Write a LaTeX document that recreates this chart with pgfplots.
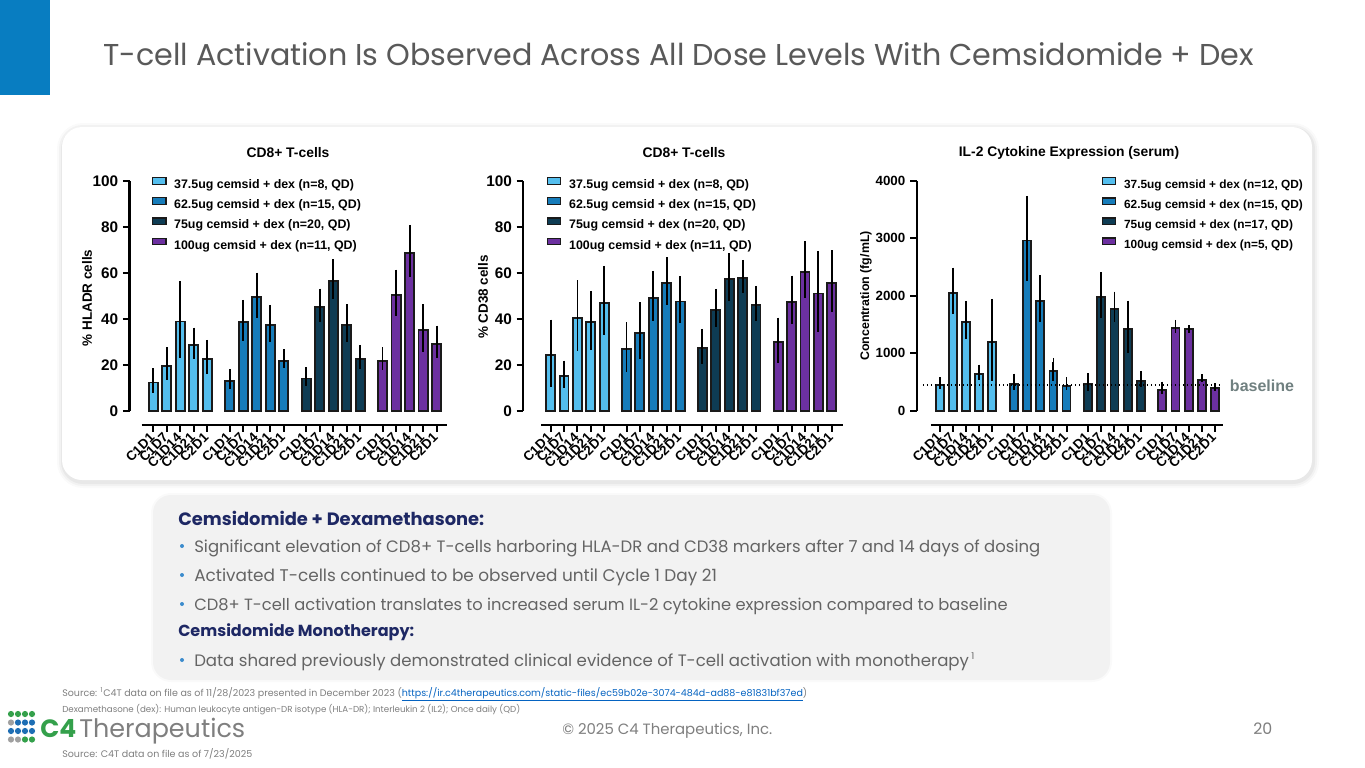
\documentclass[border=0pt]{standalone}
\usepackage{fontspec}
\setmainfont{Liberation Sans}
\newfontfamily\gothic{Poppins}
\usepackage{graphicx}
\usepackage{pgfplots}
\pgfplotsset{compat=1.18}

\definecolor{c375}{RGB}{84,190,238}
\definecolor{c625}{RGB}{22,124,186}
\definecolor{c75}{RGB}{14,60,84}
\definecolor{c100}{RGB}{108,48,160}
\definecolor{barline}{RGB}{26,26,26}
\definecolor{slideblue}{RGB}{8,125,193}
\definecolor{titlegray}{RGB}{89,89,89}
\definecolor{textgray}{RGB}{100,100,100}
\definecolor{footgray}{RGB}{127,127,127}
\definecolor{navy}{RGB}{30,40,100}
\definecolor{boxgray}{RGB}{242,242,242}
\definecolor{basegray}{RGB}{112,128,128}
\definecolor{linkblue}{RGB}{5,99,193}
\definecolor{bulletblue}{RGB}{60,140,205}
\definecolor{c4green}{RGB}{52,160,75}
\definecolor{c4blue}{RGB}{30,110,180}
\definecolor{c4gray}{RGB}{160,160,160}

\pgfplotsset{
  swatch/.style={legend image code/.code={%
    \draw[fill=#1,draw=barline,line width=0.9pt] (0pt,0.6pt) rectangle (10pt,5.6pt);}},
  bars/.style={fill=#1, draw=barline, line width=1.4pt, swatch=#1,
    error bars/.cd, y dir=plus, y explicit, error mark=-,
    error bar style={line width=1.4pt, draw=black},
    error mark options={line width=1.4pt, mark size=3pt, draw=black}},
  lowbars/.style={draw=none, fill=none, forget plot,
    error bars/.cd, y dir=minus, y explicit, error mark=none,
    error bar style={line width=1.4pt, draw=black}},
  cellbars/.style={
    scale only axis, height=183.2pt, anchor=south west,
    ybar, bar shift=0pt, bar width=0.67,
    clip=false, axis x line*=bottom, axis y line*=left,
    axis line style={draw=none},
    tick align=outside, major tick length=5pt,
    tick style={black, line width=1.5pt},
    xtick={0,1,2,3,4,5.66,6.66,7.66,8.66,9.66,11.32,12.32,13.32,14.32,15.32,16.98,17.98,18.98,19.98,20.98},
    xticklabels={C1D1,C1D7,C1D14,C1D21,C2D1,C1D1,C1D7,C1D14,C1D21,C2D1,C1D1,C1D7,C1D14,C1D21,C2D1,C1D1,C1D7,C1D14,C1D21,C2D1},
    xticklabel style={rotate=45, anchor=east, inner sep=1pt, font=\bfseries\fontsize{10}{10}\selectfont},
    xticklabel shift=2pt,
    yticklabel style={font=\bfseries\fontsize{11.5}{12}\selectfont},
    /pgf/number format/assume math mode=true,
    /pgf/number format/1000 sep={},
    scaled y ticks=false,
    legend cell align=left,
    legend style={draw=none, fill=none, inner sep=0pt, anchor=west, row sep=5pt,
      font=\bfseries\fontsize{9.3}{10}\selectfont, nodes={inner sep=0pt},
      /tikz/every odd column/.append style={column sep=5.75pt}},
  },
}

\begin{document}
\begin{tikzpicture}
\useasboundingbox (0,0) rectangle (1023.75pt,-576pt);
\fill[white] (0,0) rectangle (1023.75pt,-576pt);

\begin{scope}[x=0.75pt, y=-0.75pt]
  % header
  \fill[slideblue] (0,0) rectangle (50,95);
  \node[anchor=base west, inner sep=0pt, text=titlegray] at (103,65)
    {\resizebox{863pt}{!}{\gothic T-cell Activation Is Observed Across All Dose Levels With Cemsidomide + Dex}};

  % chart panel
  \foreach \w/\o in {9/0.02,6/0.03,3/0.04}
    \draw[black, opacity=\o, line width=\w pt, rounded corners=15] (63,129) rectangle (1313,482);
  \fill[white, rounded corners=15] (62,127) rectangle (1312,480);

  % chart titles and y labels
  \node[font=\bfseries\fontsize{10.4}{12}\selectfont] at (288,153) {CD8+ T-cells};
  \node[font=\bfseries\fontsize{10.4}{12}\selectfont] at (684,153) {CD8+ T-cells};
  \node[font=\bfseries\fontsize{10.4}{12}\selectfont] at (1069,153) {IL-2 Cytokine Expression (serum)};
  \node[rotate=90, font=\bfseries\fontsize{10.1}{12}\selectfont] at (87,298) {\% HLADR cells};
  \node[rotate=90, font=\bfseries\fontsize{10.1}{12}\selectfont] at (483,297) {\% CD38 cells};
  \node[rotate=90, font=\bfseries\fontsize{9.3}{12}\selectfont] at (866,296) {Concentration (fg/mL)};
  \node[text=basegray, font=\bfseries\fontsize{12}{14}\selectfont] at (1262,386) {baseline};

  % text box
  \foreach \w/\o in {6/0.02,3/0.03}
    \draw[black, opacity=\o, line width=\w pt, rounded corners=12] (155,497) rectangle (1108,678);
  \fill[boxgray, rounded corners=12] (155,496) rectangle (1108,677);
  \node[anchor=base west, inner sep=0pt, text=navy] at (178,525)
    {\resizebox{229.5pt}{!}{\gothic\bfseries Cemsidomide + Dexamethasone:}};
  \node[anchor=base west, inner sep=0pt, text=textgray] at (194,552)
    {\resizebox{634.5pt}{!}{\gothic Significant elevation of CD8+ T-cells harboring HLA-DR and CD38 markers after 7 and 14 days of dosing}};
  \node[anchor=base west, inner sep=0pt, text=textgray] at (194,581)
    {\resizebox{392pt}{!}{\gothic Activated T-cells continued to be observed until Cycle 1 Day 21}};
  \node[anchor=base west, inner sep=0pt, text=textgray] at (194,610)
    {\resizebox{610pt}{!}{\gothic CD8+ T-cell activation translates to increased serum IL-2 cytokine expression compared to baseline}};
  \node[anchor=base west, inner sep=0pt, text=navy] at (178,636)
    {\resizebox{177pt}{!}{\gothic\bfseries Cemsidomide Monotherapy:}};
  \node[anchor=base west, inner sep=0pt, text=textgray] at (194,666)
    {\resizebox{581pt}{!}{\gothic Data shared previously demonstrated clinical evidence of T-cell activation with monotherapy}};
  \node[anchor=base west, inner sep=0pt, text=textgray, font=\gothic\fontsize{7}{8}\selectfont] at (971,659) {1};
  \foreach \yy in {546,575,604,660}
    \fill[bulletblue] (182,\yy) circle (2);

  % footer
  \node[anchor=base west, inner sep=0pt, text=footgray] at (62,696)
    {\resizebox{558.75pt}{!}{\gothic Source: \textsuperscript{1}C4T data on file as of 11/28/2023 presented in December 2023 (\textcolor{linkblue}{\underline{https://ir.c4therapeutics.com/static-files/ec59b02e-3074-484d-ad88-e81831bf37ed}})}};
  \node[anchor=base west, inner sep=0pt, text=footgray] at (62,712)
    {\resizebox{343.5pt}{!}{\gothic Dexamethasone (dex): Human leukocyte antigen-DR isotype (HLA-DR); Interleukin 2 (IL2); Once daily (QD)}};
  \node[anchor=base west, inner sep=0pt, text=footgray] at (62,757)
    {\resizebox{142.5pt}{!}{\gothic Source: C4T data on file as of 7/23/2025}};
  \node[anchor=base west, inner sep=0pt, text=footgray] at (562,734)
    {\resizebox{157.5pt}{!}{\gothic \textcopyright{} 2025 C4 Therapeutics, Inc.}};
  \node[anchor=base west, inner sep=0pt, text=footgray] at (1253,734)
    {\resizebox{14.25pt}{!}{\gothic 20}};

  % logo
  \foreach \cx/\cy/\cc in {11/714/c4green,18/714/c4green,25/714/c4green,32/714/c4green,
      11/722.5/c4gray,18/722.5/c4blue,25/722.5/c4blue,32/722.5/c4blue,
      11/731/c4blue,18/731/c4blue,25/731/c4blue,32/731/c4blue,
      11/739.5/c4gray,18/739.5/c4gray,25/739.5/c4green,32/739.5/c4green}
    \fill[\cc] (\cx,\cy) circle (3.1);
  \node[anchor=base west, inner sep=0pt, text=c4green] at (40,737)
    {\resizebox{27pt}{!}{\gothic\bfseries C4}};
  \node[anchor=base west, inner sep=0pt, text=footgray] at (79,737)
    {\resizebox{124.5pt}{!}{\gothic Therapeutics}};
\end{scope}

% ---------- chart 1: % HLADR cells
\begin{axis}[cellbars, at={(97.125pt,-318.75pt)}, width=237.9pt,
  xmin=-1.76, xmax=21.73, ymin=-6.2, ymax=100, ytick={0,20,40,60,80,100},
  legend style={at={(0.07,0.8637)}}]
\addplot[bars=c375] table[x=x,y=y,y error=e,row sep=\\]{x y e\\ 0 12.3 4.5\\ 1 19.5 6.3\\ 2 38.8 15.8\\ 3 28.4 6.0\\ 4 22.6 6.5\\};
\addlegendentry{37.5ug cemsid + dex (n=8, QD)}
\addplot[lowbars] table[x=x,y=y,y error=e,row sep=\\]{x y e\\ 0 12.3 4.5\\ 1 19.5 6.3\\ 2 38.8 15.8\\ 3 28.4 6.0\\ 4 22.6 6.5\\};
\addplot[bars=c625] table[x=x,y=y,y error=e,row sep=\\]{x y e\\ 5.66 12.9 3.3\\ 6.66 38.4 8.1\\ 7.66 49.3 9.0\\ 8.66 37.1 7.2\\ 9.66 21.8 3.1\\};
\addlegendentry{62.5ug cemsid + dex (n=15, QD)}
\addplot[lowbars] table[x=x,y=y,y error=e,row sep=\\]{x y e\\ 5.66 12.9 3.3\\ 6.66 38.4 8.1\\ 7.66 49.3 9.0\\ 8.66 37.1 7.2\\ 9.66 21.8 3.1\\};
\addplot[bars=c75] table[x=x,y=y,y error=e,row sep=\\]{x y e\\ 11.32 14.0 3.1\\ 12.32 45.0 6.4\\ 13.32 56.4 7.7\\ 14.32 37.3 7.3\\ 15.32 22.6 4.3\\};
\addlegendentry{75ug cemsid + dex (n=20, QD)}
\addplot[lowbars] table[x=x,y=y,y error=e,row sep=\\]{x y e\\ 11.32 14.0 3.1\\ 12.32 45.0 6.4\\ 13.32 56.4 7.7\\ 14.32 37.3 7.3\\ 15.32 22.6 4.3\\};
\addplot[bars=c100] table[x=x,y=y,y error=e,row sep=\\]{x y e\\ 16.98 21.8 4.1\\ 17.98 50.3 9.3\\ 18.98 68.7 10.4\\ 19.98 35.1 9.4\\ 20.98 29.2 6.1\\};
\addlegendentry{100ug cemsid + dex (n=11, QD)}
\addplot[lowbars] table[x=x,y=y,y error=e,row sep=\\]{x y e\\ 16.98 21.8 4.1\\ 17.98 50.3 9.3\\ 18.98 68.7 10.4\\ 19.98 35.1 9.4\\ 20.98 29.2 6.1\\};
\draw[line width=1.6pt] (axis cs:-1.76,0) -- (axis cs:-1.76,100);
\draw[line width=1.6pt] (axis cs:-0.86,-6.2) -- (axis cs:21.73,-6.2);
\end{axis}

% ---------- chart 2: % CD38 cells
\begin{axis}[cellbars, at={(392.5pt,-318.75pt)}, width=240pt,
  xmin=-2.04, xmax=21.84, ymin=-6.2, ymax=100, ytick={0,20,40,60,80,100},
  legend style={at={(0.073,0.8637)}}]
\addplot[bars=c375] table[x=x,y=y,y error=e,row sep=\\]{x y e\\ 0 24.2 13.7\\ 1 15.0 5.0\\ 2 40.4 14.5\\ 3 38.4 12.0\\ 4 47.0 14.2\\};
\addlegendentry{37.5ug cemsid + dex (n=8, QD)}
\addplot[lowbars] table[x=x,y=y,y error=e,row sep=\\]{x y e\\ 0 24.2 13.7\\ 1 15.0 5.0\\ 2 40.4 14.5\\ 3 38.4 12.0\\ 4 47.0 14.2\\};
\addplot[bars=c625] table[x=x,y=y,y error=e,row sep=\\]{x y e\\ 5.66 26.8 10.0\\ 6.66 33.9 11.6\\ 7.66 49.0 10.1\\ 8.66 55.5 9.4\\ 9.66 47.5 9.2\\};
\addlegendentry{62.5ug cemsid + dex (n=15, QD)}
\addplot[lowbars] table[x=x,y=y,y error=e,row sep=\\]{x y e\\ 5.66 26.8 10.0\\ 6.66 33.9 11.6\\ 7.66 49.0 10.1\\ 8.66 55.5 9.4\\ 9.66 47.5 9.2\\};
\addplot[bars=c75] table[x=x,y=y,y error=e,row sep=\\]{x y e\\ 11.32 27.2 6.7\\ 12.32 43.8 7.5\\ 13.32 57.3 9.4\\ 14.32 57.6 6.3\\ 15.32 45.8 6.7\\};
\addlegendentry{75ug cemsid + dex (n=20, QD)}
\addplot[lowbars] table[x=x,y=y,y error=e,row sep=\\]{x y e\\ 11.32 27.2 6.7\\ 12.32 43.8 7.5\\ 13.32 57.3 9.4\\ 14.32 57.6 6.3\\ 15.32 45.8 6.7\\};
\addplot[bars=c100] table[x=x,y=y,y error=e,row sep=\\]{x y e\\ 16.98 29.8 8.9\\ 17.98 47.4 9.6\\ 18.98 60.4 11.5\\ 19.98 51.0 16.8\\ 20.98 55.4 12.6\\};
\addlegendentry{100ug cemsid + dex (n=11, QD)}
\addplot[lowbars] table[x=x,y=y,y error=e,row sep=\\]{x y e\\ 16.98 29.8 8.9\\ 17.98 47.4 9.6\\ 18.98 60.4 11.5\\ 19.98 51.0 16.8\\ 20.98 55.4 12.6\\};
\draw[line width=1.6pt] (axis cs:-2.04,0) -- (axis cs:-2.04,100);
\draw[line width=1.6pt] (axis cs:-0.72,-6.2) -- (axis cs:21.84,-6.2);
\end{axis}

% ---------- chart 3: IL-2 concentration
\begin{axis}[cellbars, at={(687.5pt,-318.75pt)}, width=229.5pt, bar width=0.61,
  xmin=-1.78, xmax=21.58, ymin=-249, ymax=4000, ytick={0,1000,2000,3000,4000},
  yticklabel style={font=\bfseries\fontsize{10}{11}\selectfont},
  legend style={at={(0.6046,0.8637)}, font=\bfseries\fontsize{8.9}{10}\selectfont}]
\addplot[bars=c375] table[x=x,y=y,y error=e,row sep=\\]{x y e\\ 0 440 70\\ 1 2050 370\\ 2 1540 300\\ 3 635 95\\ 4 1195 680\\};
\addlegendentry{37.5ug cemsid + dex (n=12, QD)}
\addplot[lowbars] table[x=x,y=y,y error=e,row sep=\\]{x y e\\ 0 440 70\\ 1 2050 370\\ 2 1540 300\\ 3 635 95\\ 4 1195 680\\};
\addplot[bars=c625] table[x=x,y=y,y error=e,row sep=\\]{x y e\\ 5.66 470 105\\ 6.66 2960 705\\ 7.66 1915 375\\ 8.66 685 165\\ 9.66 435 80\\};
\addlegendentry{62.5ug cemsid + dex (n=15, QD)}
\addplot[lowbars] table[x=x,y=y,y error=e,row sep=\\]{x y e\\ 5.66 470 105\\ 6.66 2960 705\\ 7.66 1915 375\\ 8.66 685 165\\ 9.66 435 80\\};
\addplot[bars=c75] table[x=x,y=y,y error=e,row sep=\\]{x y e\\ 11.32 465 115\\ 12.32 1980 360\\ 13.32 1775 225\\ 14.32 1420 425\\ 15.32 520 105\\};
\addlegendentry{75ug cemsid + dex (n=17, QD)}
\addplot[lowbars] table[x=x,y=y,y error=e,row sep=\\]{x y e\\ 11.32 465 115\\ 12.32 1980 360\\ 13.32 1775 225\\ 14.32 1420 425\\ 15.32 520 105\\};
\addplot[bars=c100] table[x=x,y=y,y error=e,row sep=\\]{x y e\\ 16.98 365 70\\ 17.98 1435 75\\ 18.98 1420 0\\ 19.98 540 28\\ 20.98 390 22\\};
\addlegendentry{100ug cemsid + dex (n=5, QD)}
\addplot[lowbars] table[x=x,y=y,y error=e,row sep=\\]{x y e\\ 16.98 365 70\\ 17.98 1435 75\\ 18.98 1420 0\\ 19.98 540 28\\ 20.98 390 22\\};
\draw[line width=1.6pt] (axis cs:-1.78,0) -- (axis cs:-1.78,4000);
\draw[line width=1.6pt] (axis cs:-0.69,-249) -- (axis cs:21.58,-249);
\draw[dotted, line width=1pt] (axis cs:-1.3,445) -- (axis cs:21.37,445);
\end{axis}
\end{tikzpicture}
\end{document}
